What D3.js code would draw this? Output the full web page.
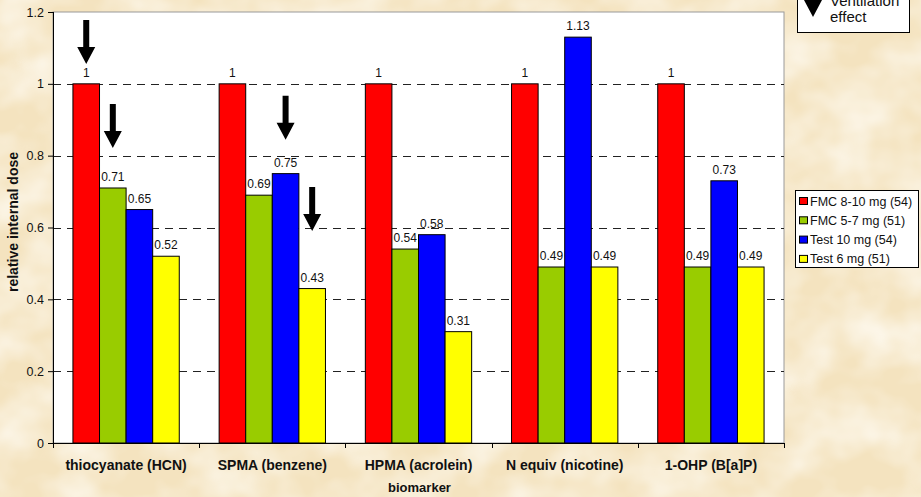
<!DOCTYPE html>
<html>
<head>
<meta charset="utf-8">
<script src="https://cdn.jsdelivr.net/npm/d3@7"></script>
<style>
  html, body { margin: 0; padding: 0; background: #f3e2bd; }
  svg { display: block; font-family: "Liberation Sans", Arial, sans-serif; }
</style>
</head>
<body>
<svg id="chart" width="921" height="497"></svg>
<script>
// Biomarkers of exposure, relative to the FMC 8-10 mg reference
const categories = ["thiocyanate (HCN)", "SPMA (benzene)", "HPMA (acrolein)", "N equiv (nicotine)", "1-OHP (B[a]P)"];
const seriesNames = ["FMC 8-10 mg (54)", "FMC 5-7 mg (51)", "Test 10 mg (54)", "Test 6 mg (51)"];
const seriesColors = ["#ff0000", "#99cc00", "#0000ff", "#ffff00"];
const fmc810 = [1, 1, 1, 1, 1];
const fmc57 = [0.71, 0.69, 0.54, 0.49, 0.49];
const test10 = [0.65, 0.75, 0.58, 1.13, 0.73];
const test6 = [0.52, 0.43, 0.31, 0.49, 0.49];
const yTicks = [0, 0.2, 0.4, 0.6, 0.8, 1, 1.2];
// Ventilation-effect arrows: bar they point at and the value at the arrow tip
const arrows = [
  { category: 0, series: 0, tip: 1.055 },
  { category: 0, series: 1, tip: 0.821 },
  { category: 1, series: 2, tip: 0.844 },
  { category: 1, series: 3, tip: 0.590 }
];

const seriesValues = [fmc810, fmc57, test10, test6];

const svg = d3.select("#chart");
const W = 921, H = 497;
const plot = { left: 53, right: 784, top: 12, bottom: 443 };

// Parchment background: warm base with soft, blotchy light patches
const defs = svg.append("defs");
const f = defs.append("filter").attr("id", "paper").attr("x", 0).attr("y", 0).attr("width", 1).attr("height", 1);
f.append("feTurbulence").attr("type", "fractalNoise").attr("baseFrequency", "0.018 0.022")
  .attr("numOctaves", 3).attr("seed", 11).attr("result", "n");
f.append("feColorMatrix").attr("in", "n").attr("type", "matrix")
  .attr("values", "0 0 0 0 1  0 0 0 0 0.98  0 0 0 0 0.93  1.3 0 0 0 -0.42");
svg.append("rect").attr("width", W).attr("height", H).attr("fill", "#f4e3bf");
svg.append("rect").attr("width", W).attr("height", H).attr("fill", "#fff").attr("filter", "url(#paper)");

// Scales
const x = d3.scaleBand().domain(d3.range(categories.length)).range([plot.left, plot.right]).padding(0);
const xs = d3.scaleBand().domain(d3.range(seriesNames.length)).range([0, x.bandwidth()])
  .paddingInner(0).paddingOuter(0.75);
const y = d3.scaleLinear().domain([0, 1.2]).range([plot.bottom, plot.top]);

// Plot area
svg.append("rect")
  .attr("x", plot.left).attr("y", plot.top)
  .attr("width", plot.right - plot.left).attr("height", plot.bottom - plot.top)
  .attr("fill", "#fff").attr("stroke", "#9a9a9a").attr("stroke-width", 1);

// Gridlines
svg.append("g").selectAll("line")
  .data(yTicks.filter(d => d > 0 && d < 1.2))
  .join("line")
  .attr("x1", plot.left).attr("x2", plot.right)
  .attr("y1", d => Math.round(y(d)) + 0.5).attr("y2", d => Math.round(y(d)) + 0.5)
  .attr("stroke", "#222").attr("stroke-dasharray", "8,6");

// Bars
const groups = svg.append("g").selectAll("g")
  .data(categories.map((c, i) => ({ c, i })))
  .join("g")
  .attr("transform", d => `translate(${x(d.i)},0)`);

groups.selectAll("rect")
  .data(d => seriesValues.map((vals, s) => ({ s, v: vals[d.i] })))
  .join("rect")
  .attr("x", d => xs(d.s))
  .attr("y", d => y(d.v))
  .attr("width", xs.bandwidth())
  .attr("height", d => y(0) - y(d.v))
  .attr("fill", d => seriesColors[d.s])
  .attr("stroke", "#000").attr("stroke-width", 1);

// Value labels
groups.selectAll("text")
  .data(d => seriesValues.map((vals, s) => ({ s, v: vals[d.i] })))
  .join("text")
  .attr("x", d => xs(d.s) + xs.bandwidth() / 2)
  .attr("y", d => y(d.v) - 7)
  .attr("text-anchor", "middle")
  .attr("font-size", 12)
  .attr("fill", "#111")
  .text(d => d.v === 1 ? "1" : d.v.toFixed(2));

// Y axis
const yAxis = svg.append("g").attr("transform", `translate(${plot.left},0)`)
  .call(d3.axisLeft(y).tickValues(yTicks).tickSize(5).tickPadding(4)
    .tickFormat(d => d === 0 ? "0" : d3.format("")(+d.toFixed(1))));
yAxis.select(".domain").attr("stroke", "#000").attr("d", `M0.5,${plot.top}V${plot.bottom}`);
yAxis.selectAll(".tick line").attr("stroke", "#000");
yAxis.selectAll(".tick text").attr("font-size", 12.5).attr("fill", "#111")
  .attr("font-family", "Liberation Sans, Arial, sans-serif");

// X axis with ticks between categories
const xAxisG = svg.append("g").attr("transform", `translate(0,${plot.bottom})`);
xAxisG.append("line").attr("x1", plot.left).attr("x2", plot.right + 1)
  .attr("y1", 0.5).attr("y2", 0.5).attr("stroke", "#000");
xAxisG.selectAll("line.tk")
  .data(d3.range(categories.length + 1))
  .join("line").attr("class", "tk")
  .attr("x1", i => Math.round(plot.left + i * x.step()) + 0.5)
  .attr("x2", i => Math.round(plot.left + i * x.step()) + 0.5)
  .attr("y1", 0).attr("y2", 5).attr("stroke", "#000");
xAxisG.selectAll("text")
  .data(categories)
  .join("text")
  .attr("x", (d, i) => x(i) + x.bandwidth() / 2)
  .attr("y", 27)
  .attr("text-anchor", "middle")
  .attr("font-size", 14).attr("font-weight", "bold").attr("fill", "#111")
  .text(d => d);

// Axis titles
svg.append("text")
  .attr("x", (plot.left + plot.right) / 2 + 1).attr("y", 492)
  .attr("text-anchor", "middle").attr("font-size", 13).attr("font-weight", "bold").attr("fill", "#111")
  .text("biomarker");
svg.append("text")
  .attr("transform", `translate(18,222) rotate(-90)`)
  .attr("text-anchor", "middle").attr("font-size", 14).attr("font-weight", "bold").attr("fill", "#111")
  .text("relative internal dose");

// Down arrow shape with its tip at (0,0)
function arrowPath(len) {
  const head = 17, hw = 9, sw = 3;
  return `M${-sw},${-len}H${sw}V${-head}H${hw}L0,0L${-hw},${-head}H${-sw}Z`;
}
svg.append("g").selectAll("path")
  .data(arrows)
  .join("path")
  .attr("transform", d => `translate(${x(d.category) + xs(d.series) + xs.bandwidth() / 2},${y(d.tip)})`)
  .attr("d", arrowPath(44))
  .attr("fill", "#000");

// Legend
const lg = svg.append("g").attr("transform", "translate(795,190)");
lg.append("rect").attr("x", 0.5).attr("y", 0.5).attr("width", 123).attr("height", 77)
  .attr("fill", "#fff").attr("stroke", "#000");
const li = lg.selectAll("g").data(seriesNames).join("g")
  .attr("transform", (d, i) => `translate(0,${11 + i * 19.3})`);
li.append("rect").attr("x", 4.5).attr("y", -3.5).attr("width", 8).attr("height", 7)
  .attr("fill", (d, i) => seriesColors[i]).attr("stroke", "#000");
li.append("text").attr("x", 15).attr("y", 4.5).attr("font-size", 12.5).attr("fill", "#111").text(d => d);

// Ventilation effect key (its top runs past the upper edge)
const vk = svg.append("g");
vk.append("rect").attr("x", 797.5).attr("y", -10).attr("width", 112).attr("height", 42.5)
  .attr("fill", "#fff").attr("stroke", "#000");
vk.append("path").attr("transform", "translate(813,17)").attr("d", arrowPath(44)).attr("fill", "#000");
vk.append("text").attr("x", 830).attr("y", 6).attr("font-size", 15).attr("fill", "#111").text("Ventilation");
vk.append("text").attr("x", 830).attr("y", 22).attr("font-size", 15).attr("fill", "#111").text("effect");
</script>
</body>
</html>
